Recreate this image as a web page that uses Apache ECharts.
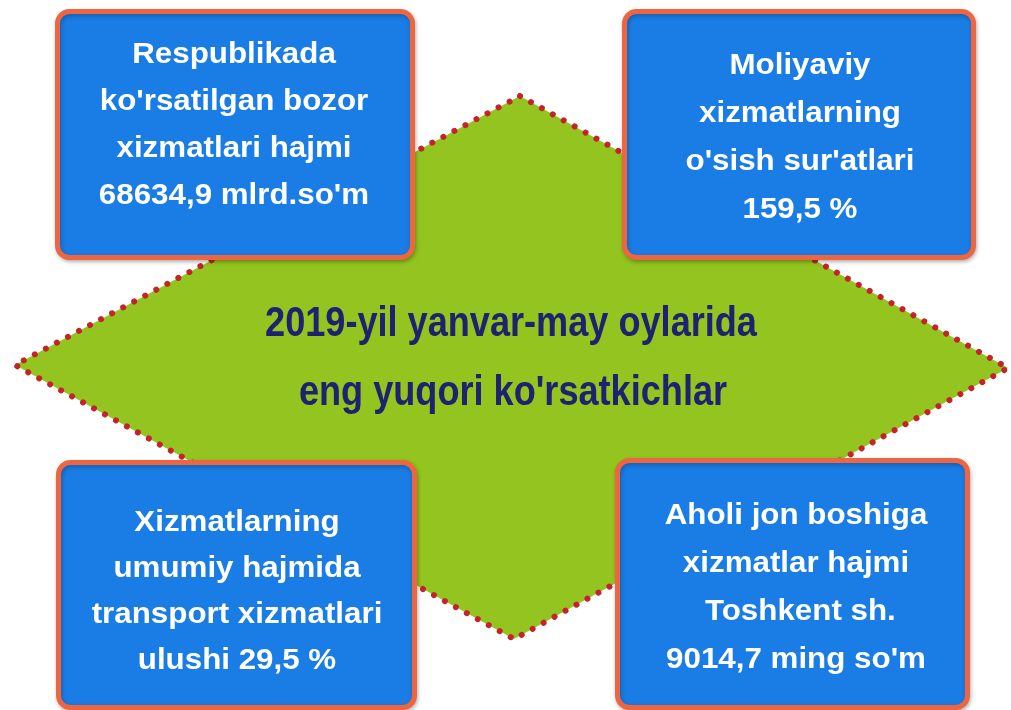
<!DOCTYPE html>
<html>
<head>
<meta charset="utf-8">
<script src="https://cdn.jsdelivr.net/npm/echarts@6/dist/echarts.min.js"></script>
<style>
html,body{margin:0;padding:0;background:#ffffff;}
#chart{width:1011px;height:710px;}
</style>
</head>
<body>
<div id="chart"></div>
<script>
// ---- content ----
var headlineLines = ["2019-yil yanvar-may oylarida", "eng yuqori ko'rsatkichlar"];
var box1Lines = ["Respublikada", "ko'rsatilgan bozor", "xizmatlari hajmi", "68634,9 mlrd.so'm"];
var box2Lines = ["Moliyaviy", "xizmatlarning", "o'sish sur'atlari", "159,5 %"];
var box3Lines = ["Xizmatlarning", "umumiy hajmida", "transport xizmatlari", "ulushi 29,5 %"];
var box4Lines = ["Aholi jon boshiga", "xizmatlar hajmi", " Toshkent sh.", "9014,7 ming so'm"];

var chart = echarts.init(document.getElementById('chart'), null, {renderer: 'canvas'});

var GREEN = '#93C41F', BLUE = '#1A7CE5', BORDER = '#EE6641', DOT = '#C4232B', NAVY = '#1E2270';
var FAMILY = 'Liberation Sans';

function box(x, y, w, h) {
  return {
    type: 'rect', z: 10,
    shape: {x: x, y: y, width: w, height: h, r: 12},
    style: {fill: BLUE, stroke: BORDER, lineWidth: 5,
      shadowBlur: 4, shadowColor: 'rgba(0,0,0,0.25)', shadowOffsetX: 1, shadowOffsetY: 2}
  };
}
function boxText(lines, cx, cy, lh) {
  return {
    type: 'text', z: 20, x: cx, y: cy, scaleX: 1.08,
    style: {text: lines.join('\n'), fill: '#ffffff', fontFamily: FAMILY, fontWeight: 'bold', fontSize: 29,
      textAlign: 'center', textVerticalAlign: 'middle', lineHeight: lh}
  };
}

var graphics = [
  {
    type: 'polygon', z: 1,
    shape: {points: [[520, 96], [1008, 368], [514, 639], [15, 365]]},
    style: {fill: GREEN, stroke: DOT, lineWidth: 6, lineDash: [0.01, 12.5], lineCap: 'round', lineJoin: 'round'}
  },
  {
    type: 'text', z: 5, x: 511, y: 324, scaleX: 0.86,
    style: {text: headlineLines[0], fill: NAVY, fontFamily: FAMILY, fontWeight: 'bold', fontSize: 42, textAlign: 'center', textVerticalAlign: 'middle'}
  },
  {
    type: 'text', z: 5, x: 513, y: 393, scaleX: 0.86,
    style: {text: headlineLines[1], fill: NAVY, fontFamily: FAMILY, fontWeight: 'bold', fontSize: 42, textAlign: 'center', textVerticalAlign: 'middle'}
  },
  box(57.5, 11.5, 355, 246),
  box(624.5, 11.5, 349, 246),
  box(58.5, 462.5, 356, 245),
  box(617.5, 460.5, 350, 247),
  boxText(box1Lines, 234, 125, 47),
  boxText(box2Lines, 800, 138, 48),
  boxText(box3Lines, 237, 592, 46),
  boxText(box4Lines, 796, 588, 48)
];

chart.setOption({
  backgroundColor: '#ffffff',
  animation: false,
  graphic: graphics
});
</script>
</body>
</html>
